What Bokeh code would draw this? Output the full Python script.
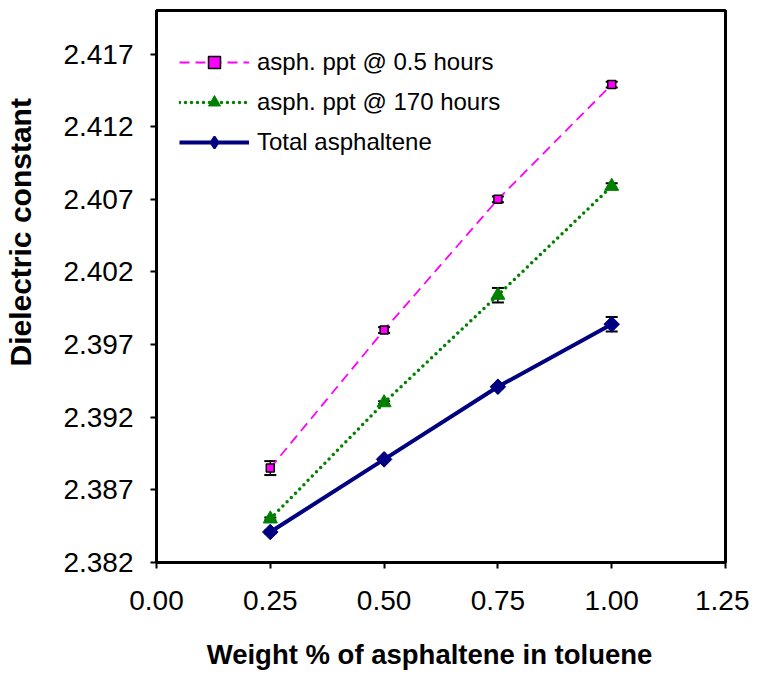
import math
from bokeh.plotting import figure
from bokeh.models import (ColumnDataSource, FixedTicker, NumeralTickFormatter,
                          Range1d, Whisker, Legend, LegendItem)
from bokeh.embed import file_html
from bokeh.resources import INLINE

# ---- data ----
x_vals = [0.25, 0.50, 0.75, 1.00]
ppt_05h = [2.3885, 2.3980, 2.4070, 2.4149]
ppt_05h_err = [0.00048, 0.0002, 0.0002, 0.0002]
ppt_170h = [2.3850, 2.3930, 2.4004, 2.4079]
ppt_170h_err = [0.0001, 0.0001, 0.0005, 0.0002]
total = [2.3841, 2.3891, 2.3941, 2.3984]
total_err = [0.0001, 0.0001, 0.0001, 0.0005]
x_ticks = [0.0, 0.25, 0.5, 0.75, 1.0, 1.25]
y_ticks = [2.382, 2.387, 2.392, 2.397, 2.402, 2.407, 2.412, 2.417]
series_names = ["asph. ppt @ 0.5 hours", "asph. ppt @ 170 hours", "Total asphaltene"]
x_title = "Weight % of asphaltene in toluene"
y_title = "Dielectric constant"

FONT = "Liberation Sans"
NB = "\u00a0"

p = figure(width=749, height=673, output_backend="svg", toolbar_location=None,
           x_range=Range1d(0.0, 1.25), y_range=Range1d(2.382, 2.42),
           min_border_left=156, min_border_right=24, min_border_top=10,
           min_border_bottom=111)

p.xgrid.visible = False
p.ygrid.visible = False
p.outline_line_color = "black"
p.outline_line_width = 3
p.background_fill_color = "white"

for ax in (p.xaxis[0], p.yaxis[0]):
    ax.axis_line_width = 3
    ax.axis_line_color = "black"
    ax.major_tick_line_width = 2
    ax.major_tick_out = 6
    ax.major_tick_in = 0
    ax.minor_tick_line_color = None
    ax.major_label_text_font = FONT
    ax.major_label_text_font_size = "28px"
    ax.major_label_text_color = "black"
    ax.axis_label_text_font = FONT
    ax.axis_label_text_font_style = "bold"
    ax.axis_label_text_color = "black"

p.xaxis.ticker = FixedTicker(ticks=x_ticks)
p.yaxis.ticker = FixedTicker(ticks=y_ticks)
p.xaxis.formatter = NumeralTickFormatter(format="0.00")
p.yaxis.formatter = NumeralTickFormatter(format="0.000")
p.xaxis.major_label_standoff = 22
p.yaxis.major_label_standoff = 17

# titles: padding with no-break spaces shifts them off-centre as in the reference
p.xaxis.axis_label = x_title + NB * 3
p.xaxis.axis_label_text_font_size = "27.5px"
p.xaxis.axis_label_standoff = 26
p.yaxis.axis_label = NB * 13 + y_title
p.yaxis.axis_label_text_font_size = "30px"
p.yaxis.axis_label_standoff = 23

# error bars
def add_err(vals, errs):
    src = ColumnDataSource(dict(x=x_vals,
                                lo=[v - e for v, e in zip(vals, errs)],
                                hi=[v + e for v, e in zip(vals, errs)]))
    w = Whisker(source=src, base="x", lower="lo", upper="hi",
                line_color="black", line_width=1.5)
    w.upper_head.size = 12
    w.lower_head.size = 12
    w.upper_head.line_width = 2
    w.lower_head.line_width = 2
    p.add_layout(w)

add_err(ppt_05h, ppt_05h_err)
add_err(ppt_170h, ppt_170h_err)
add_err(total, total_err)

l1 = p.line(x_vals, ppt_05h, line_color="#FF00FF", line_width=1.8, line_dash="10 6")
m1 = p.scatter(x_vals, ppt_05h, marker="square", size=8, fill_color="#FF00FF",
               line_color="black", line_width=1.5)
l2 = p.line(x_vals, ppt_170h, line_color="#008000", line_width=3.5, line_dash="0 6",
            line_cap="round")
m2 = p.scatter(x_vals, ppt_170h, marker="triangle", size=14, fill_color="#008000",
               line_color="#008000")
l3 = p.line(x_vals, total, line_color="#000080", line_width=4)
# diamond key (legend markers ignore rotation); sits beneath the rotated squares
m3_key = p.scatter(x_vals, total, marker="diamond", size=13, fill_color="#000080",
                   line_color="#000080", line_width=2)
m3 = p.scatter(x_vals, total, marker="square", angle=math.pi / 4, size=11,
               fill_color="#000080", line_color="#000080", line_width=1)

legend = Legend(items=[LegendItem(label=series_names[0], renderers=[l1, m1]),
                       LegendItem(label=series_names[1], renderers=[l2, m2]),
                       LegendItem(label=series_names[2], renderers=[l3, m3_key])],
                location=(23, 405))
legend.background_fill_alpha = 0
legend.border_line_color = None
legend.padding = 0
legend.margin = 0
legend.spacing = 10
legend.glyph_width = 70
legend.glyph_height = 30
legend.label_height = 30
legend.label_standoff = 8
legend.label_text_font = FONT
legend.label_text_font_size = "24px"
legend.label_text_color = "black"
p.add_layout(legend)

open("out.html", "w").write(file_html(p, INLINE))
